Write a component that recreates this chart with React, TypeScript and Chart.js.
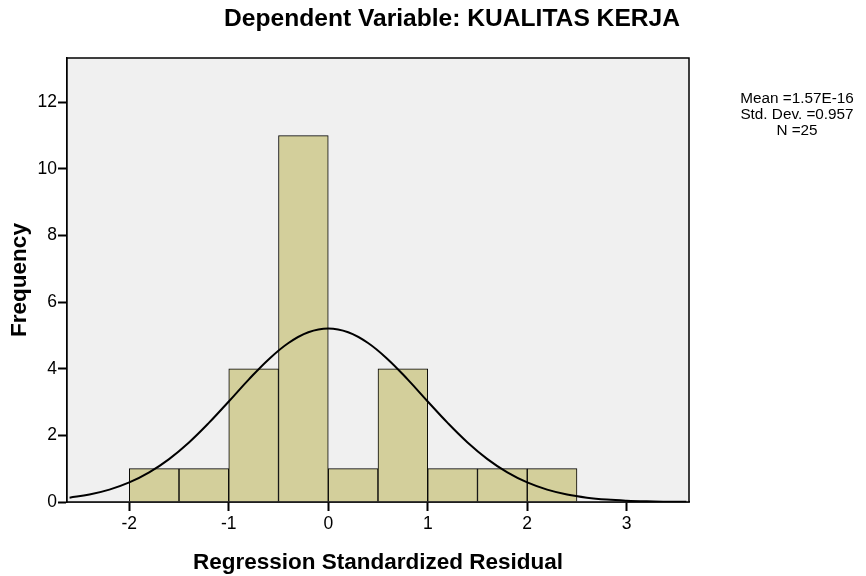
import React, { useEffect, useRef } from "react";
import { Chart, registerables } from "chart.js";

Chart.register(...registerables);

const binCenters = [-1.75, -1.25, -0.75, -0.25, 0.25, 0.75, 1.25, 1.75, 2.25];
const frequencies = [1, 1, 4, 11, 1, 4, 1, 1, 1];
const curveX = [
  -2.6, -2.4, -2.2, -2.0, -1.8, -1.6, -1.4, -1.2, -1.0, -0.8, -0.6, -0.4, -0.2, 0,
  0.2, 0.4, 0.6, 0.8, 1.0, 1.2, 1.4, 1.6, 1.8, 2.0, 2.2, 2.4, 2.6, 2.8, 3.0, 3.2, 3.4, 3.6,
];
const curveY = [
  0.13, 0.224, 0.371, 0.587, 0.889, 1.288, 1.787, 2.374, 3.018, 3.674, 4.281, 4.775, 5.098, 5.21,
  5.098, 4.775, 4.281, 3.674, 3.018, 2.374, 1.787, 1.288, 0.889, 0.587, 0.371, 0.224, 0.13, 0.072,
  0.038, 0.019, 0.0095, 0.0044,
];
const xTicks = [-2, -1, 0, 1, 2, 3];
const yTicks = [0, 2, 4, 6, 8, 10, 12];
const statsLines = ["Mean =1.57E-16", "Std. Dev. =0.957", "N =25"];
const titleText = "Dependent Variable: KUALITAS KERJA";
const xTitle = "Regression Standardized Residual";
const yTitle = "Frequency";

const FONT = "'Liberation Sans', Arial, sans-serif";

const framePlugin = {
  id: "frame",
  beforeDatasetsDraw(chart: any) {
    const { ctx, chartArea: a } = chart;
    ctx.save();
    ctx.fillStyle = "#f0f0f0";
    ctx.fillRect(a.left, a.top, a.right - a.left, a.bottom - a.top);
    ctx.restore();
  },
  afterDraw(chart: any) {
    const { ctx, chartArea: a } = chart;
    ctx.save();
    ctx.strokeStyle = "#000";
    ctx.lineWidth = 1.5;
    ctx.strokeRect(a.left, a.top, a.right - a.left, a.bottom - a.top);
    ctx.restore();
  },
};

export default function App() {
  const ref = useRef<HTMLCanvasElement>(null);
  useEffect(() => {
    if (!ref.current) return;
    const chart = new Chart(ref.current, {
      type: "bar",
      data: {
        datasets: [
          {
            type: "line",
            data: curveX.map((x, i) => ({ x, y: curveY[i] })),
            borderColor: "#000",
            borderWidth: 2,
            pointRadius: 0,
            tension: 0.4,
            fill: false,
            order: 0,
          } as any,
          {
            type: "bar",
            data: binCenters.map((x, i) => ({ x, y: frequencies[i] })),
            backgroundColor: "#d3cf9b",
            borderColor: "#000",
            borderWidth: 1,
            barPercentage: 1,
            categoryPercentage: 1,
            order: 1,
          } as any,
        ],
      },
      options: {
        animation: false,
        responsive: false,
        maintainAspectRatio: false,
        layout: { padding: { top: 58, right: 177, left: 0, bottom: 0 } },
        plugins: { legend: { display: false }, tooltip: { enabled: false }, title: { display: false } },
        scales: {
          x: {
            type: "linear",
            offset: false,
            min: -2.626,
            max: 3.626,
            afterBuildTicks: (s: any) => {
              s.ticks = xTicks.map((v) => ({ value: v }));
            },
            afterFit: (s: any) => {
              s.height = 74;
            },
            grid: { offset: false, drawOnChartArea: false, tickLength: 9, tickColor: "#000", tickWidth: 2 },
            border: { display: true, color: "#000", width: 1.5 },
            ticks: { color: "#000", padding: 3, font: { family: FONT, size: 17.5 }, maxRotation: 0 },
            title: {
              display: true,
              text: xTitle,
              color: "#000",
              font: { family: FONT, size: 22.5, weight: "bold" },
              padding: { top: 3, bottom: 0 },
            },
          },
          y: {
            type: "linear",
            min: 0,
            max: 13.33,
            afterBuildTicks: (s: any) => {
              s.ticks = yTicks.map((v) => ({ value: v }));
            },
            afterFit: (s: any) => {
              s.width = 67;
            },
            grid: { drawOnChartArea: false, tickLength: 9, tickColor: "#000", tickWidth: 2 },
            border: { display: true, color: "#000", width: 1.5 },
            ticks: { color: "#000", padding: 1, font: { family: FONT, size: 17.5 } },
            title: {
              display: true,
              text: yTitle,
              color: "#000",
              font: { family: FONT, size: 22.5, weight: "bold" },
              padding: { top: 6, bottom: 0 },
            },
          },
        },
      },
      plugins: [framePlugin],
    });
    return () => chart.destroy();
  }, []);

  return (
    <div style={{ position: "absolute", left: 0, top: 0, width: 866, height: 576, background: "#fff" }}>
      <canvas ref={ref} width={866} height={576} style={{ width: 866, height: 576, display: "block" }} />
      <div
        style={{
          position: "absolute",
          left: 202,
          width: 500,
          top: 3,
          textAlign: "center",
          fontFamily: FONT,
          fontWeight: "bold",
          fontSize: 24.6,
          lineHeight: "30px",
          color: "#000",
          whiteSpace: "nowrap",
        }}
      >
        {titleText}
      </div>
      <div
        style={{
          position: "absolute",
          left: 737,
          width: 120,
          top: 90,
          textAlign: "center",
          fontFamily: FONT,
          fontSize: 15.3,
          lineHeight: "16px",
          color: "#000",
        }}
      >
        {statsLines.map((l) => (
          <div key={l} style={{ whiteSpace: "nowrap" }}>{l}</div>
        ))}
      </div>
    </div>
  );
}
